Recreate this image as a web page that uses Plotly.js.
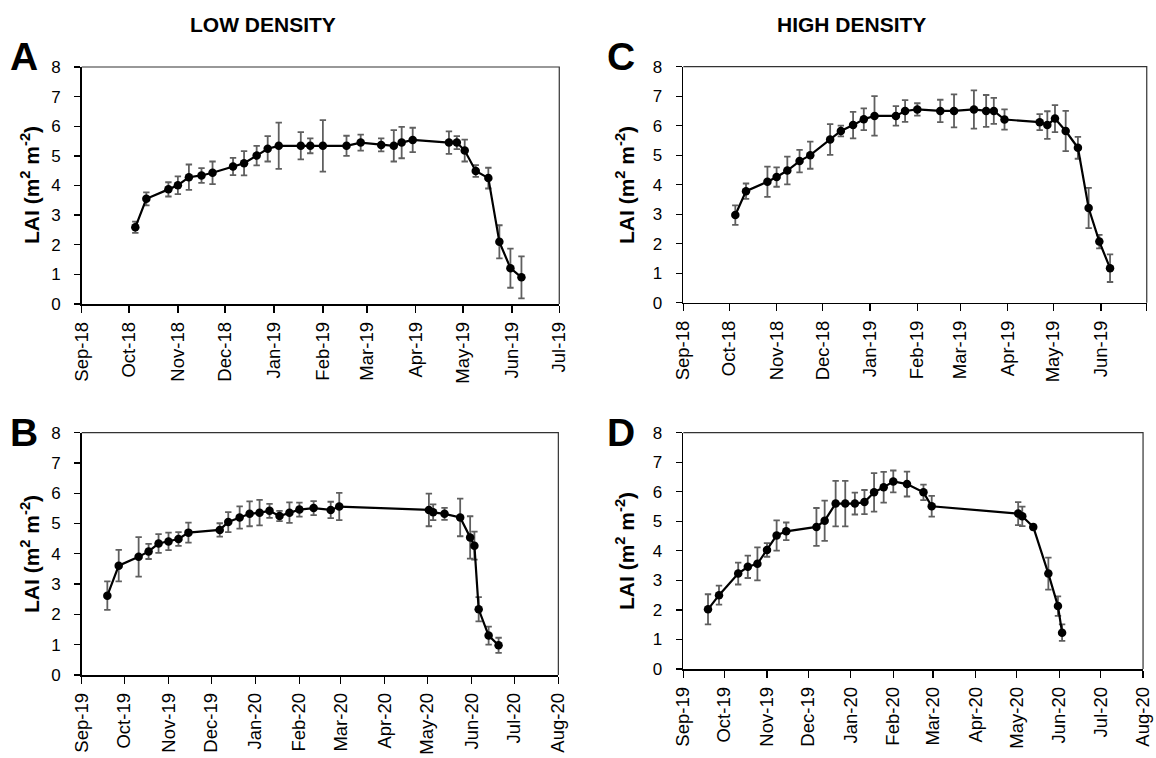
<!DOCTYPE html>
<html>
<head>
<meta charset="utf-8">
<script src="https://cdn.plot.ly/plotly-3.0.1.min.js"></script>
<style>html,body{margin:0;padding:0;background:#fff;}#chart{width:1156px;height:758px;}</style>
</head>
<body>
<div id="chart"></div>
<script>
// Season 2018-19 sampling dates (panels A and C)
const dates1819 = ['2018-10-05','2018-10-12','2018-10-26','2018-11-01','2018-11-08','2018-11-16','2018-11-23','2018-12-06','2018-12-13','2018-12-21','2018-12-28','2019-01-04','2019-01-18','2019-01-24','2019-02-01','2019-02-16','2019-02-25','2019-03-10','2019-03-18','2019-03-23','2019-03-30','2019-04-22','2019-04-27','2019-05-02','2019-05-09','2019-05-17','2019-05-24','2019-05-31','2019-06-07'];
// Panel A: low density 2018-19
const laiA = [2.59,3.55,3.87,4.01,4.28,4.34,4.43,4.64,4.75,5.01,5.24,5.34,5.34,5.34,5.34,5.34,5.45,5.37,5.34,5.45,5.54,5.45,5.45,5.18,4.49,4.25,2.10,1.21,0.90];
const errA = [0.19,0.22,0.24,0.30,0.43,0.25,0.38,0.29,0.41,0.33,0.43,0.78,0.46,0.25,0.87,0.34,0.27,0.22,0.53,0.53,0.41,0.38,0.22,0.37,0.20,0.35,0.56,0.66,0.71];
// Panel C: high density 2018-19
const laiC = [2.97,3.78,4.10,4.26,4.48,4.80,5.00,5.53,5.82,6.02,6.22,6.33,6.33,6.50,6.55,6.50,6.50,6.55,6.50,6.50,6.21,6.12,6.02,6.24,5.82,5.25,3.21,2.07,1.17];
const errC = [0.33,0.26,0.51,0.33,0.47,0.38,0.46,0.52,0.18,0.45,0.37,0.67,0.33,0.37,0.21,0.38,0.56,0.65,0.54,0.44,0.34,0.27,0.47,0.46,0.68,0.37,0.68,0.23,0.47];
// Panel B: low density 2019-20
const datesB = ['2019-09-19','2019-09-27','2019-10-11','2019-10-18','2019-10-25','2019-11-01','2019-11-08','2019-11-15','2019-12-07','2019-12-13','2019-12-21','2019-12-28','2020-01-04','2020-01-11','2020-01-18','2020-01-25','2020-02-01','2020-02-11','2020-02-23','2020-02-29','2020-05-02','2020-05-05','2020-05-13','2020-05-24','2020-05-31','2020-06-03','2020-06-06','2020-06-13','2020-06-20'];
const laiB = [2.62,3.61,3.90,4.08,4.34,4.41,4.49,4.70,4.79,5.05,5.20,5.32,5.36,5.42,5.25,5.36,5.46,5.51,5.45,5.56,5.45,5.37,5.32,5.20,4.54,4.27,2.17,1.30,0.98];
const errB = [0.47,0.52,0.65,0.25,0.31,0.29,0.23,0.33,0.22,0.33,0.37,0.41,0.42,0.23,0.17,0.34,0.23,0.23,0.27,0.45,0.54,0.26,0.20,0.62,0.70,0.46,0.40,0.30,0.25];
// Panel D: high density 2019-20
const datesD = ['2019-09-19','2019-09-27','2019-10-11','2019-10-18','2019-10-25','2019-11-01','2019-11-08','2019-11-15','2019-12-07','2019-12-13','2019-12-21','2019-12-28','2020-01-04','2020-01-11','2020-01-18','2020-01-25','2020-02-01','2020-02-11','2020-02-23','2020-02-29','2020-05-02','2020-05-05','2020-05-13','2020-05-24','2020-05-31','2020-06-03'];
const laiD = [2.02,2.50,3.23,3.46,3.56,4.03,4.52,4.66,4.81,5.02,5.60,5.60,5.60,5.65,5.98,6.15,6.35,6.26,5.98,5.51,5.26,5.17,4.81,3.23,2.13,1.23];
const errD = [0.51,0.32,0.37,0.38,0.56,0.23,0.51,0.30,0.64,0.68,0.77,0.77,0.37,0.41,0.65,0.52,0.37,0.42,0.26,0.35,0.39,0.33,0.08,0.54,0.33,0.28];

const panelLetters = ['A','C','B','D'];
const headings = ['LOW DENSITY','HIGH DENSITY'];
const yTitle = 'LAI (m<sup>2</sup> m<sup>-2</sup>)';

const FONT = 'Liberation Sans, Arial, sans-serif';

function trace(x, y, e, xa, ya) {
  return {
    x: x, y: y, xaxis: xa, yaxis: ya, type: 'scatter', mode: 'lines+markers',
    line: {color: '#000', width: 2.2},
    marker: {color: '#000', size: 8.5},
    error_y: {type: 'data', array: e, visible: true, color: '#5f5f5f', thickness: 1.8, width: 3.2},
    hoverinfo: 'x+y', cliponaxis: false
  };
}

const data = [
  trace(dates1819, laiA, errA, 'x', 'y'),
  trace(dates1819, laiC, errC, 'x2', 'y2'),
  trace(datesB, laiB, errB, 'x3', 'y3'),
  trace(datesD, laiD, errD, 'x4', 'y4')
];

function xax(dom, anchor, r0, r1) {
  return {
    domain: dom, anchor: anchor, type: 'date', range: [r0, r1],
    tick0: r0, dtick: 'M1', tickformat: '%b-%y', tickangle: -90,
    ticks: 'outside', ticklen: 7, tickwidth: 1.3, tickcolor: '#000',
    showline: true, linecolor: '#000', linewidth: 1.6,
    showgrid: false, zeroline: false, automargin: false,
    ticklabelstandoff: 2,
    tickfont: {family: FONT, size: 18.5, color: '#000'}
  };
}
function yax(dom, anchor) {
  return {
    domain: dom, anchor: anchor, range: [0, 8], dtick: 1, tick0: 0,
    ticks: 'outside', ticklen: 6, tickwidth: 1.3, tickcolor: '#000',
    showline: true, linecolor: '#000', linewidth: 1.6,
    showgrid: false, zeroline: false, automargin: false,
    ticklabelstandoff: 10,
    tickfont: {family: FONT, size: 17, color: '#000'}
  };
}

const frames = [['x','y'],['x2','y2'],['x3','y3'],['x4','y4']].map(p => ({
  type: 'path', xref: p[0] + ' domain', yref: p[1] + ' domain',
  path: 'M 0 1 L 1 1 L 1 0', line: {color: '#333', width: 1.2}
}));

function ann(text, px, py, size, angle) {
  return {text: text, x: px / 1156, y: 1 - py / 758, xref: 'paper', yref: 'paper',
    xanchor: 'center', yanchor: 'middle', textangle: angle || 0, showarrow: false,
    font: {family: FONT, size: size, color: '#000', weight: 'bold'}};
}

const annotations = [
  ann(headings[0], 263, 25, 21),
  ann(headings[1], 851, 25, 21),
  ann(panelLetters[0], 24, 56, 39),
  ann(panelLetters[1], 621, 56, 39),
  ann(panelLetters[2], 24, 432, 39),
  ann(panelLetters[3], 621, 432, 39),
  ann(yTitle, 30, 185, 21, -90),
  ann(yTitle, 625, 185, 21, -90),
  ann(yTitle, 30, 554, 21, -90),
  ann(yTitle, 625, 551, 21, -90)
];

const layout = {
  width: 1156, height: 758,
  margin: {l: 0, r: 0, t: 0, b: 0},
  paper_bgcolor: '#fff', plot_bgcolor: '#fff',
  showlegend: false,
  font: {family: FONT, color: '#000'},
  xaxis: xax([0.0707, 0.4838], 'y', '2018-09-01', '2019-07-01'),
  yaxis: yax([0.5989, 0.9116], 'x'),
  xaxis2: xax([0.5911, 0.9920], 'y2', '2018-09-01', '2019-07-01'),
  yaxis2: yax([0.6007, 0.9120], 'x2'),
  xaxis3: xax([0.0707, 0.4830], 'y3', '2019-09-01', '2020-08-01'),
  yaxis3: yax([0.1095, 0.4292], 'x3'),
  xaxis4: xax([0.5911, 0.9888], 'y4', '2019-09-01', '2020-08-01'),
  yaxis4: yax([0.1174, 0.4292], 'x4'),
  shapes: frames,
  annotations: annotations
};

Plotly.newPlot('chart', data, layout, {staticPlot: true, displayModeBar: false});
</script>
</body>
</html>
